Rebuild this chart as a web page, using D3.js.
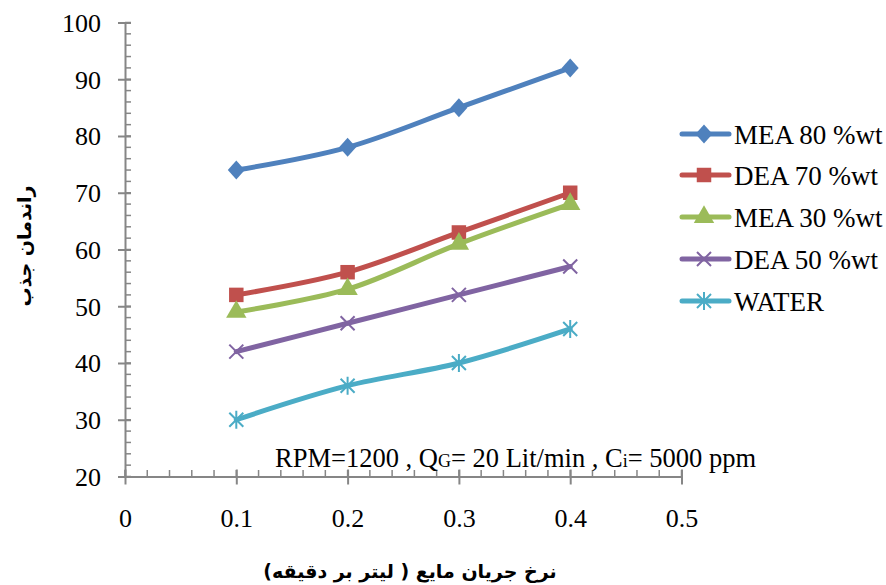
<!DOCTYPE html>
<html>
<head>
<meta charset="utf-8">
<script src="https://cdn.jsdelivr.net/npm/d3@7"></script>
<style>
body { margin: 0; background: #fff; }
</style>
</head>
<body>
<div id="chart-area"></div>
<script>
var flowRates = [0.1, 0.2, 0.3, 0.4];
var mea80 = [74, 78, 85, 92];
var dea70 = [52, 56, 63, 70];
var mea30 = [49, 53, 61, 68];
var dea50 = [42, 47, 52, 57];
var water = [30, 36, 40, 46];
var seriesNames = ["MEA 80 %wt", "DEA 70 %wt", "MEA 30 %wt", "DEA 50 %wt", "WATER"];
var xTicks = [0, 0.1, 0.2, 0.3, 0.4, 0.5];
var yTicks = [20, 30, 40, 50, 60, 70, 80, 90, 100];

var seriesValues = [mea80, dea70, mea30, dea50, water];
var colors = ["#4F81BD", "#C0504D", "#9BBB59", "#8064A2", "#4BACC6"];
var symbols = ["diamond", d3.symbolSquare, d3.symbolTriangle, "x", "star"];

var serif = "'Liberation Serif', 'Times New Roman', serif";
var width = 886, height = 585;
var svg = d3.select("#chart-area")
    .append("svg")
        .attr("width", width)
        .attr("height", height);

var x = d3.scaleLinear().domain([0, 0.5]).range([125, 681.5]);
var y = d3.scaleLinear().domain([20, 100]).range([476.5, 22.5]);

var axisColor = "#868686";

// minor ticks
var g = svg.append("g");
g.selectAll(".yminor")
    .data(d3.range(20, 100.01, 2))
    .enter().append("line")
        .attr("x1", 125).attr("x2", 131)
        .attr("y1", d => y(d)).attr("y2", d => y(d))
        .attr("stroke", axisColor).attr("stroke-width", 1.5);
g.selectAll(".xminor")
    .data(d3.range(0, 0.501, 0.02))
    .enter().append("line")
        .attr("x1", d => x(d)).attr("x2", d => x(d))
        .attr("y1", 476.5).attr("y2", 470)
        .attr("stroke", axisColor).attr("stroke-width", 1.5);

// y axis
var yAxis = d3.axisLeft(y).tickValues(yTicks).tickSize(7).tickSizeOuter(0);
var yg = svg.append("g")
    .attr("transform", "translate(125,0)")
    .call(yAxis);
yg.selectAll(".tick line").attr("x2", -7).attr("x1", 6);
yg.selectAll("line, path").attr("stroke", axisColor).attr("stroke-width", 2);
yg.selectAll("text")
    .attr("x", -24)
    .attr("dy", "0.34em")
    .attr("font-size", "26px")
    .attr("fill", "#000")
    .attr("font-family", serif);

// x axis
var xAxis = d3.axisBottom(x).tickValues(xTicks).tickSize(8).tickSizeOuter(0).tickFormat(d3.format(""));
var xg = svg.append("g")
    .attr("transform", "translate(0,476.5)")
    .call(xAxis);
xg.selectAll(".tick line").attr("y1", -7);
xg.selectAll("line, path").attr("stroke", axisColor).attr("stroke-width", 2);
xg.selectAll("text")
    .attr("y", 50)
    .attr("dy", null)
    .attr("font-size", "26px")
    .attr("fill", "#000")
    .attr("font-family", serif);

// lines
var line = d3.line()
    .x((d, i) => x(flowRates[i]))
    .y(d => y(d))
    .curve(d3.curveCatmullRom.alpha(0.5));

function drawMarker(sel, k, cx, cy) {
    var s = symbols[k];
    if (s === "x") {
        sel.append("path")
            .attr("d", "M" + (cx - 7) + "," + (cy - 7) + "L" + (cx + 7) + "," + (cy + 7) +
                       "M" + (cx - 7) + "," + (cy + 7) + "L" + (cx + 7) + "," + (cy - 7))
            .attr("stroke", colors[k]).attr("stroke-width", 2).attr("fill", "none");
    } else if (s === "star") {
        sel.append("path")
            .attr("d", "M" + (cx - 7) + "," + (cy - 7) + "L" + (cx + 7) + "," + (cy + 7) +
                       "M" + (cx - 7) + "," + (cy + 7) + "L" + (cx + 7) + "," + (cy - 7) +
                       "M" + cx + "," + (cy - 9) + "L" + cx + "," + (cy + 9))
            .attr("stroke", colors[k]).attr("stroke-width", 2).attr("fill", "none");
    } else if (s === "diamond") {
        sel.append("path")
            .attr("d", "M" + cx + "," + (cy - 9.5) + "L" + (cx + 8.5) + "," + cy +
                       "L" + cx + "," + (cy + 9.5) + "L" + (cx - 8.5) + "," + cy + "Z")
            .attr("fill", colors[k]);
    } else {
        var size = s === d3.symbolSquare ? 210 : 180;
        sel.append("path")
            .attr("d", d3.symbol().type(s).size(size)())
            .attr("transform", "translate(" + cx + "," + cy + ")")
            .attr("fill", colors[k]);
    }
}

seriesValues.forEach((vals, k) => {
    var sg = svg.append("g");
    sg.append("path")
        .datum(vals)
        .attr("d", line)
        .attr("fill", "none")
        .attr("stroke", colors[k])
        .attr("stroke-width", 5)
        .attr("stroke-linecap", "round");
    vals.forEach((v, i) => drawMarker(sg, k, x(flowRates[i]), y(v)));
});

// legend
var legendY = [134, 175, 217, 259, 301];
seriesNames.forEach((name, k) => {
    var lg = svg.append("g");
    lg.append("line")
        .attr("x1", 682).attr("x2", 729)
        .attr("y1", legendY[k]).attr("y2", legendY[k])
        .attr("stroke", colors[k]).attr("stroke-width", 5)
        .attr("stroke-linecap", "round");
    drawMarker(lg, k, 704, legendY[k]);
    lg.append("text")
        .attr("x", 734)
        .attr("y", legendY[k] + 10)
        .attr("font-size", "27px")
        .attr("font-family", serif)
        .text(name);
});

// annotation
var note = svg.append("text")
    .attr("x", 275)
    .attr("y", 467)
    .attr("font-size", "26.5px")
    .attr("font-family", serif);
note.append("tspan").text("RPM=1200 , Q");
note.append("tspan").attr("font-size", "18px").text("G");
note.append("tspan").text("= 20 Lit/min , C");
note.append("tspan").attr("font-size", "18px").text("i");
note.append("tspan").text("= 5000 ppm");

// axis titles
svg.append("text")
    .attr("x", 410)
    .attr("y", 578)
    .attr("text-anchor", "middle")
    .attr("font-size", "19px")
    .attr("font-weight", "bold")
    .attr("font-family", "DejaVu Sans")
    .attr("direction", "rtl")
    .text("نرخ جریان مایع ( لیتر بر دقیقه)");

svg.append("text")
    .attr("transform", "translate(31,246) rotate(-90)")
    .attr("text-anchor", "middle")
    .attr("font-size", "19px")
    .attr("font-weight", "bold")
    .attr("font-family", "DejaVu Sans")
    .attr("direction", "rtl")
    .text("راندمان جذب");
</script>
</body>
</html>
